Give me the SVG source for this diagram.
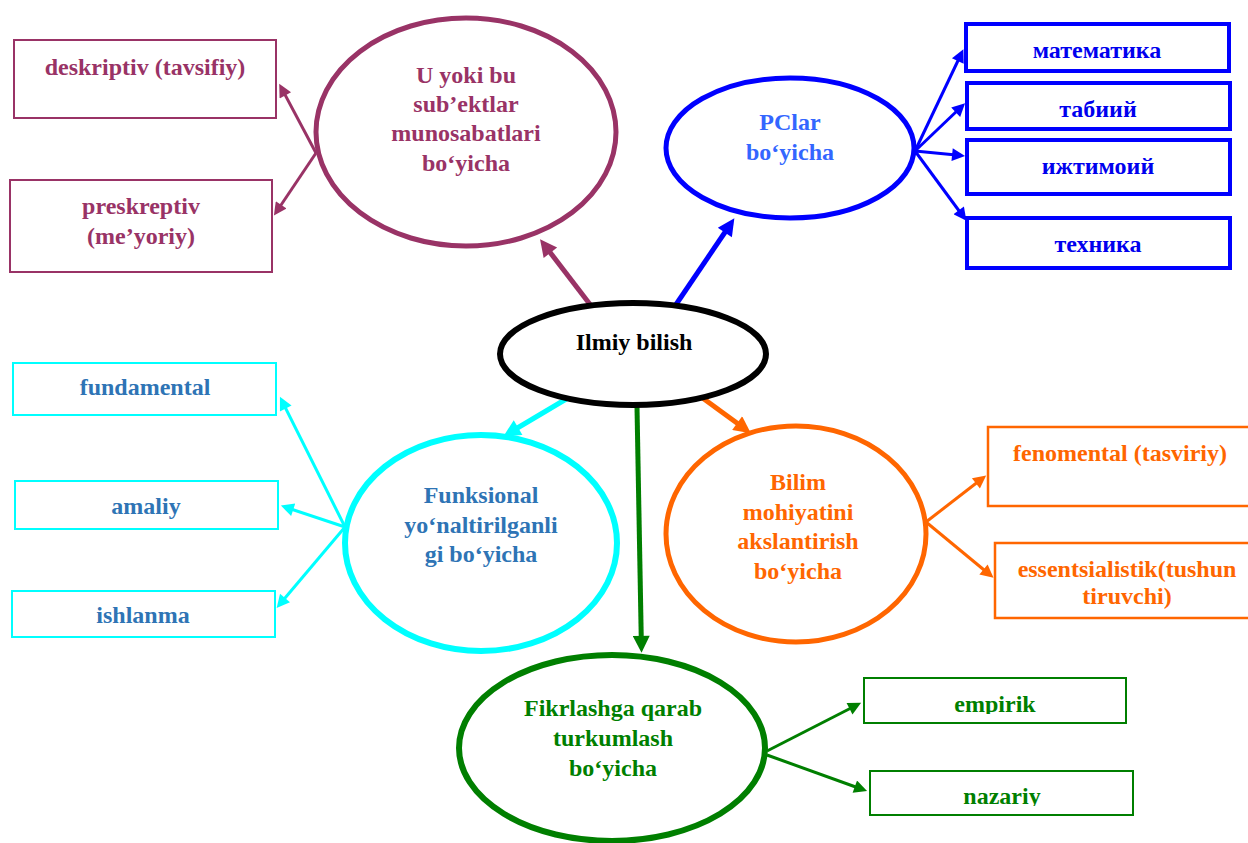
<svg xmlns="http://www.w3.org/2000/svg" width="1248" height="843" viewBox="0 0 1248 843">
<style>
text{font-family:"Liberation Serif","Times New Roman",serif;font-weight:bold;font-size:24px;text-anchor:middle}
.el{fill:#fff}
.box{fill:#fff}
.mr{stroke:#993366}.mrt{fill:#993366}
.bl{stroke:#0000ff}.blt{fill:#0000ee}.blt2{fill:#3366ff}
.cy{stroke:#00ffff}.cyt{fill:#2e74b5}
.or{stroke:#ff6600}.ort{fill:#ff6600}
.gr{stroke:#007f00}.grt{fill:#007f00}
.conn line{fill:none}
</style>
<defs>
<marker id="hMrS" viewBox="0 0 10 10" refX="3" refY="5" markerWidth="16" markerHeight="13" markerUnits="userSpaceOnUse" orient="auto"><path d="M0,0L10,5L0,10z" fill="#993366"/></marker>
<marker id="hMrL" viewBox="0 0 10 10" refX="2.8" refY="5" markerWidth="20" markerHeight="17" markerUnits="userSpaceOnUse" orient="auto"><path d="M0,0L10,5L0,10z" fill="#993366"/></marker>
<marker id="hBlS" viewBox="0 0 10 10" refX="3" refY="5" markerWidth="16" markerHeight="13" markerUnits="userSpaceOnUse" orient="auto"><path d="M0,0L10,5L0,10z" fill="#0000ff"/></marker>
<marker id="hBlL" viewBox="0 0 10 10" refX="2.8" refY="5" markerWidth="20" markerHeight="17" markerUnits="userSpaceOnUse" orient="auto"><path d="M0,0L10,5L0,10z" fill="#0000ff"/></marker>
<marker id="hCyS" viewBox="0 0 10 10" refX="3" refY="5" markerWidth="16" markerHeight="13" markerUnits="userSpaceOnUse" orient="auto"><path d="M0,0L10,5L0,10z" fill="#00ffff"/></marker>
<marker id="hCyL" viewBox="0 0 10 10" refX="2.8" refY="5" markerWidth="20" markerHeight="17" markerUnits="userSpaceOnUse" orient="auto"><path d="M0,0L10,5L0,10z" fill="#00ffff"/></marker>
<marker id="hOrS" viewBox="0 0 10 10" refX="3" refY="5" markerWidth="16" markerHeight="13" markerUnits="userSpaceOnUse" orient="auto"><path d="M0,0L10,5L0,10z" fill="#ff6600"/></marker>
<marker id="hOrL" viewBox="0 0 10 10" refX="2.8" refY="5" markerWidth="20" markerHeight="17" markerUnits="userSpaceOnUse" orient="auto"><path d="M0,0L10,5L0,10z" fill="#ff6600"/></marker>
<marker id="hGrS" viewBox="0 0 10 10" refX="3" refY="5" markerWidth="16" markerHeight="13" markerUnits="userSpaceOnUse" orient="auto"><path d="M0,0L10,5L0,10z" fill="#007f00"/></marker>
<marker id="hGrL" viewBox="0 0 10 10" refX="2.8" refY="5" markerWidth="20" markerHeight="17" markerUnits="userSpaceOnUse" orient="auto"><path d="M0,0L10,5L0,10z" fill="#007f00"/></marker>
<clipPath id="clipEmp"><rect x="864" y="678" width="262" height="36"/></clipPath>
<clipPath id="clipNaz"><rect x="870" y="771" width="263" height="35"/></clipPath>
</defs>
<rect width="1248" height="843" fill="#fff"/>

<g id="connectors" class="conn">
<line class="mr" x1="316" y1="153" x2="283.5" y2="91.9" stroke-width="3" marker-end="url(#hMrS)"/>
<line class="mr" x1="316" y1="153" x2="279" y2="208" stroke-width="3" marker-end="url(#hMrS)"/>
<line class="mr" x1="592" y1="307" x2="547.5" y2="249" stroke-width="5" marker-end="url(#hMrL)"/>
<line class="bl" x1="675" y1="306" x2="727.5" y2="228.5" stroke-width="5" marker-end="url(#hBlL)"/>
<line class="bl" x1="915" y1="151" x2="959.5" y2="57.5" stroke-width="3" marker-end="url(#hBlS)"/>
<line class="bl" x1="915" y1="151" x2="958.5" y2="109.5" stroke-width="3" marker-end="url(#hBlS)"/>
<line class="bl" x1="915" y1="151" x2="956" y2="155" stroke-width="3" marker-end="url(#hBlS)"/>
<line class="bl" x1="915" y1="151" x2="961" y2="213.5" stroke-width="3" marker-end="url(#hBlS)"/>
<line class="cy" x1="573" y1="395" x2="514" y2="430" stroke-width="5" marker-end="url(#hCyL)"/>
<line class="cy" x1="345" y1="527" x2="284" y2="405" stroke-width="3" marker-end="url(#hCyS)"/>
<line class="cy" x1="345" y1="527" x2="289.5" y2="508.5" stroke-width="3" marker-end="url(#hCyS)"/>
<line class="cy" x1="345" y1="527" x2="282.5" y2="601" stroke-width="3" marker-end="url(#hCyS)"/>
<line class="gr" x1="637" y1="407" x2="641.3" y2="640.6" stroke-width="5" marker-end="url(#hGrL)"/>
<line class="gr" x1="767" y1="751" x2="853" y2="707" stroke-width="3" marker-end="url(#hGrS)"/>
<line class="gr" x1="767" y1="755" x2="858.5" y2="788" stroke-width="3" marker-end="url(#hGrS)"/>
<line class="or" x1="693" y1="391" x2="741" y2="426" stroke-width="5" marker-end="url(#hOrL)"/>
<line class="or" x1="926" y1="522" x2="979" y2="481" stroke-width="3" marker-end="url(#hOrS)"/>
<line class="or" x1="926" y1="522" x2="986.5" y2="572" stroke-width="3" marker-end="url(#hOrS)"/>
</g>

<g id="n-center">
<ellipse class="el" cx="633" cy="354" rx="133" ry="51" stroke="#000" stroke-width="6"/>
<text x="634" y="350" fill="#000">Ilmiy bilish</text>
</g>

<g id="n-subekt">
<ellipse class="el mr" cx="466" cy="132" rx="150" ry="114" stroke-width="5"/>
<text class="mrt" x="466" y="83">U yoki bu</text>
<text class="mrt" x="466" y="112">sub’ektlar</text>
<text class="mrt" x="466" y="141">munosabatlari</text>
<text class="mrt" x="466" y="171">bo‘yicha</text>
</g>
<g id="n-deskriptiv">
<rect class="box mr" x="14" y="40" width="262" height="78" stroke-width="2"/>
<text class="mrt" x="145" y="75">deskriptiv (tavsifiy)</text>
</g>
<g id="n-preskreptiv">
<rect class="box mr" x="10" y="180" width="262" height="92" stroke-width="2"/>
<text class="mrt" x="141" y="214">preskreptiv</text>
<text class="mrt" x="141" y="244">(me’yoriy)</text>
</g>

<g id="n-pclar">
<ellipse class="el bl" cx="790" cy="148" rx="124" ry="70" stroke-width="5"/>
<text class="blt2" x="790" y="130">PClar</text>
<text class="blt2" x="790" y="160">bo‘yicha</text>
</g>
<g id="n-matematika">
<rect class="box bl" x="966" y="24" width="263" height="47" stroke-width="4"/>
<text class="blt" x="1097" y="58">математика</text>
</g>
<g id="n-tabiiy">
<rect class="box bl" x="967" y="83" width="263" height="46" stroke-width="4"/>
<text class="blt" x="1098" y="117">табиий</text>
</g>
<g id="n-ijtimoiy">
<rect class="box bl" x="967" y="140" width="263" height="54" stroke-width="4"/>
<text class="blt" x="1098" y="174">ижтимоий</text>
</g>
<g id="n-texnika">
<rect class="box bl" x="967" y="218" width="263" height="50" stroke-width="4"/>
<text class="blt" x="1098" y="252">техника</text>
</g>

<g id="n-funksional">
<ellipse class="el cy" cx="481" cy="543" rx="136" ry="108" stroke-width="6"/>
<text class="cyt" x="481" y="503">Funksional</text>
<text class="cyt" x="481" y="533">yo‘naltirilganli</text>
<text class="cyt" x="481" y="562">gi bo‘yicha</text>
</g>
<g id="n-fundamental">
<rect class="box cy" x="13" y="363" width="263" height="52" stroke-width="2"/>
<text class="cyt" x="145" y="395">fundamental</text>
</g>
<g id="n-amaliy">
<rect class="box cy" x="15" y="481" width="263" height="48" stroke-width="2"/>
<text class="cyt" x="146" y="514">amaliy</text>
</g>
<g id="n-ishlanma">
<rect class="box cy" x="12" y="591" width="263" height="46" stroke-width="2"/>
<text class="cyt" x="143" y="623">ishlanma</text>
</g>

<g id="n-bilim">
<ellipse class="el or" cx="796" cy="534" rx="130" ry="108" stroke-width="5"/>
<text class="ort" x="798" y="490">Bilim</text>
<text class="ort" x="798" y="520">mohiyatini</text>
<text class="ort" x="798" y="549">akslantirish</text>
<text class="ort" x="798" y="579">bo‘yicha</text>
</g>
<g id="n-fenomental">
<rect class="box or" x="988" y="427" width="270" height="79" stroke-width="2.5"/>
<text class="ort" x="1120" y="461">fenomental (tasviriy)</text>
</g>
<g id="n-essentsialistik">
<rect class="box or" x="995" y="543" width="263" height="75" stroke-width="2.5"/>
<text class="ort" x="1127" y="577">essentsialistik(tushun</text>
<text class="ort" x="1127" y="604">tiruvchi)</text>
</g>

<g id="n-fikrlash">
<ellipse class="el gr" cx="612" cy="748" rx="153" ry="93" stroke-width="6"/>
<text class="grt" x="613" y="716">Fikrlashga qarab</text>
<text class="grt" x="613" y="746">turkumlash</text>
<text class="grt" x="613" y="776">bo‘yicha</text>
</g>
<g id="n-empirik">
<rect class="box gr" x="864" y="678" width="262" height="45" stroke-width="2"/>
<text class="grt" x="995" y="712" clip-path="url(#clipEmp)">empirik</text>
</g>
<g id="n-nazariy">
<rect class="box gr" x="870" y="771" width="263" height="44" stroke-width="2"/>
<text class="grt" x="1002" y="804" clip-path="url(#clipNaz)">nazariy</text>
</g>
</svg>
